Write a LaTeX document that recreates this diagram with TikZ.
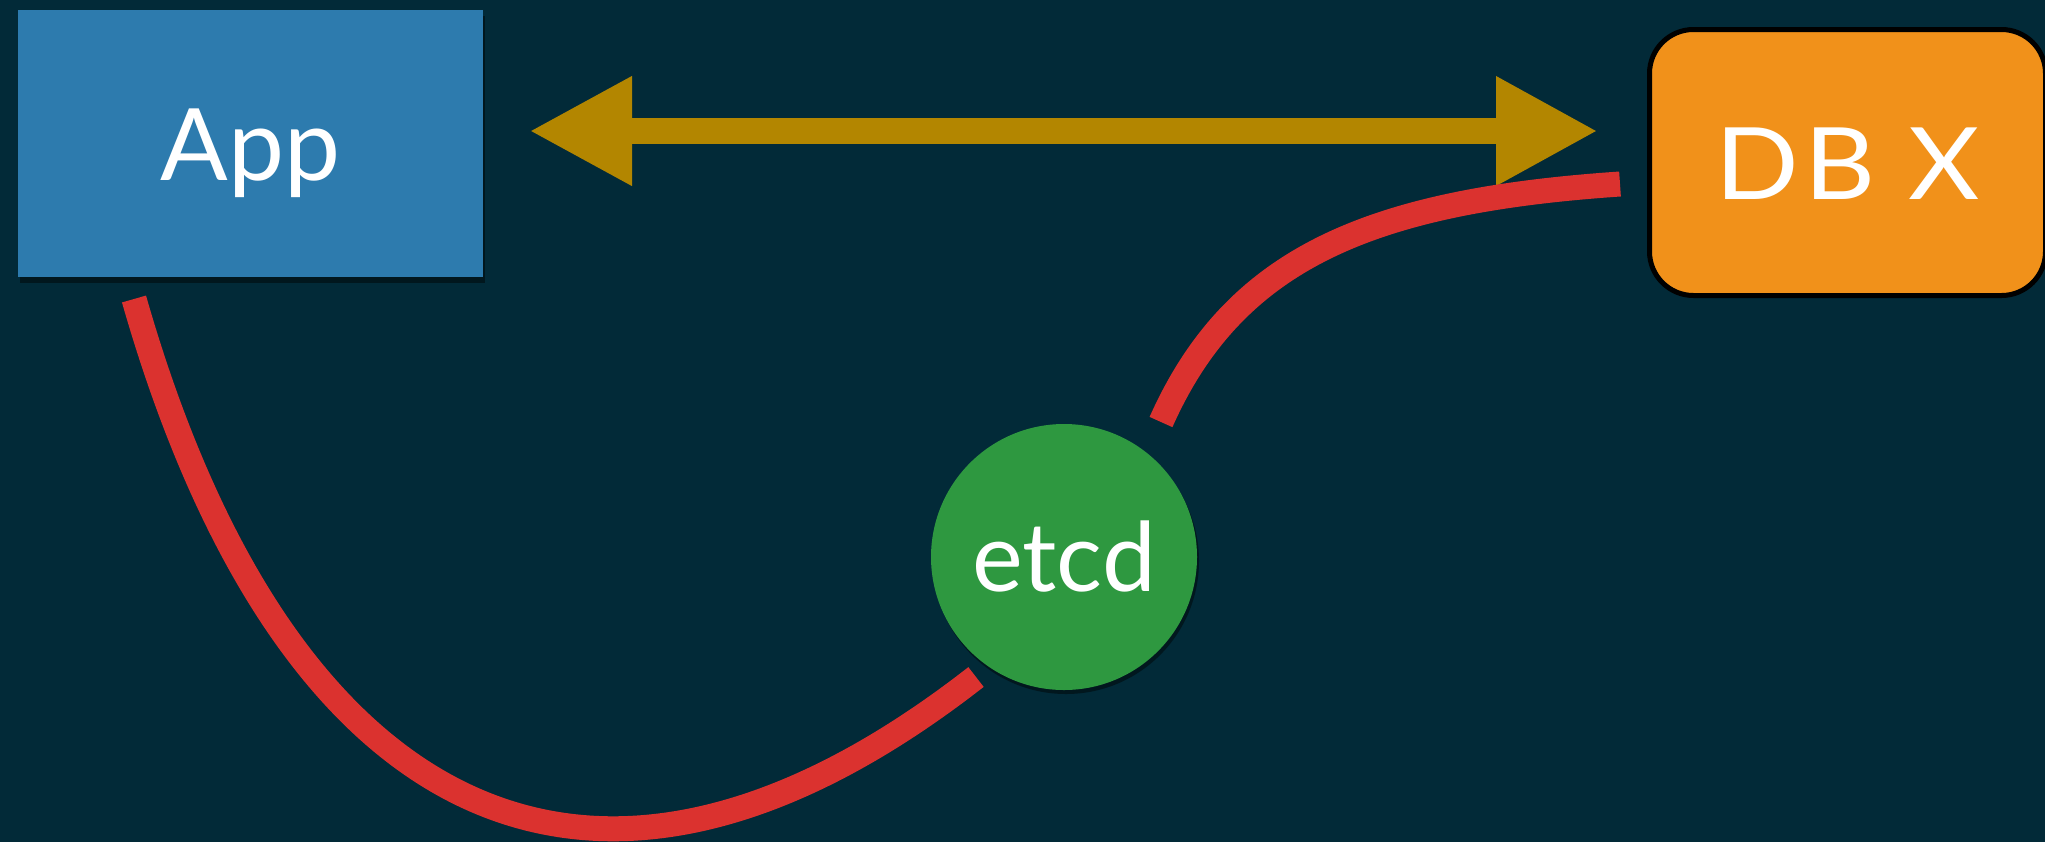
\documentclass[tikz,border=0pt]{standalone}
\usepackage{fontspec}
\setmainfont{Lato}
\newfontfamily\widefont[FakeStretch=1.1,LetterSpace=5]{Lato}
\usetikzlibrary{arrows.meta,shadows}
\definecolor{bgcol}{RGB}{2,42,56}
\definecolor{appblue}{RGB}{45,123,174}
\definecolor{dborange}{RGB}{241,145,26}
\definecolor{etcdgreen}{RGB}{46,152,64}
\definecolor{linkred}{RGB}{219,50,47}
\definecolor{arrowgold}{RGB}{179,134,0}
\tikzset{
  lbl/.style={text=white, font=\fontsize{50}{60}\selectfont},
  appbox/.style={lbl, rectangle, fill=appblue, inner sep=0pt,
    text height=36.5pt, text depth=0pt,
    minimum width=232.5pt, minimum height=133.5pt,
    drop shadow={shadow xshift=1pt, shadow yshift=-3pt, opacity=0.45, fill=black}},
  dbbox/.style={lbl, rectangle, fill=dborange, draw=black, line width=2.5pt,
    text height=36.5pt, text depth=0pt, font=\widefont\fontsize{50}{60}\selectfont,
    rounded corners=22pt, inner sep=0pt, minimum width=198pt, minimum height=133pt},
  etcdnode/.style={lbl, circle, fill=etcdgreen, inner sep=0pt, minimum size=133pt,
    font=\fontsize{48}{58}\selectfont,
    drop shadow={shadow xshift=1pt, shadow yshift=-2pt, opacity=0.45, fill=black}},
  redlink/.style={draw=linkred, line width=12.5pt},
  goldlink/.style={draw=arrowgold, line width=13pt,
    {Triangle[length=51.5pt,width=51pt]}-{Triangle[length=51pt,width=51pt]}}
}
\begin{document}
\begin{tikzpicture}[x=0.5pt,y=-0.5pt]
\path[use as bounding box, fill=bgcol] (0,0) rectangle (2045,842);
\node[appbox] (app) at (250.5,143.5) {App};
\node[dbbox] (db) at (1847.5,162.5) {DB X};
\node[etcdnode] (etcd) at (1064,557) {etcd};
\coordinate (al) at (529,131);
\coordinate (ar) at (1598,131);
\draw[goldlink] (al) -- (ar);
\coordinate (c1s) at (134,299);
\coordinate (c1e) at (976,677);
\coordinate (c2s) at (1161,422);
\coordinate (c2e) at (1620,184);
\draw[redlink] (c1s) .. controls (277,799) and (576,989) .. (c1e);
\draw[redlink] (c2s) .. controls (1234,258) and (1370,201) .. (c2e);
\end{tikzpicture}
\end{document}
